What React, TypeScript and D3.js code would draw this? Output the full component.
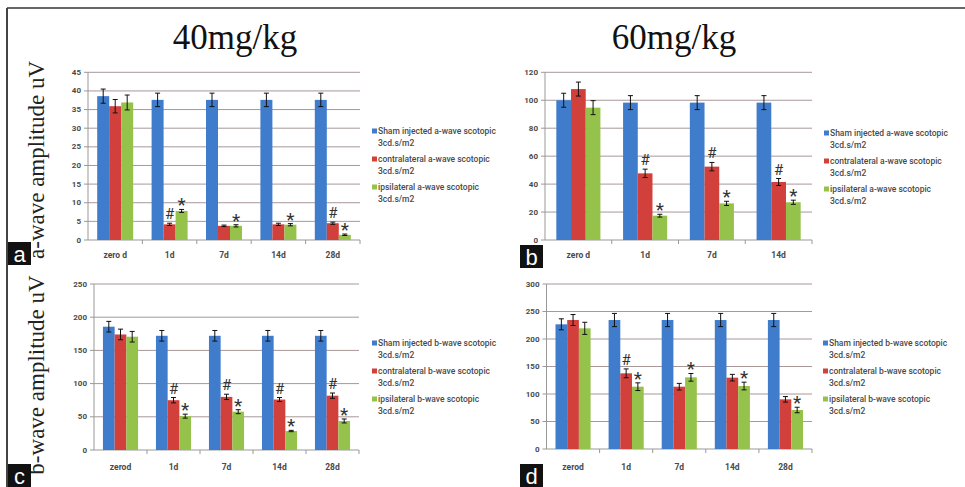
import React from 'react';
import * as d3 from 'd3';

// categories
const categoriesA = ['zero d', '1d', '7d', '14d', '28d'];
const categoriesB = ['zero d', '1d', '7d', '14d'];
const categoriesC = ['zerod', '1d', '7d', '14d', '28d'];
const categoriesD = ['zerod', '1d', '7d', '14d', '28d'];

// a: a-wave, 40mg/kg
const shamA = [38.6, 37.6, 37.6, 37.6, 37.6];
const shamAErr = [1.9, 1.8, 1.8, 1.8, 1.8];
const contraA = [35.9, 4.2, 3.8, 4.2, 4.5];
const contraAErr = [1.8, 0.3, 0.2, 0.3, 0.3];
const ipsiA = [36.9, 7.8, 3.8, 4.1, 1.4];
const ipsiAErr = [2, 0.4, 0.3, 0.3, 0.2];
const hashA = [false, true, false, false, true];
const starA = [false, true, true, true, true];

// b: a-wave, 60mg/kg
const shamB = [100, 98.3, 98.3, 98.3];
const shamBErr = [5, 5, 5, 5];
const contraB = [108, 47.7, 52.5, 41.5];
const contraBErr = [5, 3, 3, 2.5];
const ipsiB = [94.7, 17.4, 26.2, 27];
const ipsiBErr = [5, 1, 1.5, 1.5];
const hashB = [false, true, true, true];
const starB = [false, true, true, true];

// c: b-wave, 40mg/kg
const shamC = [185.7, 172, 172, 172, 172];
const shamCErr = [8, 8, 8, 8, 8];
const contraC = [174, 75, 80, 76, 81.8];
const contraCErr = [8, 4, 4, 3, 4];
const ipsiC = [170.6, 51, 57.7, 28.6, 43.7];
const ipsiCErr = [8, 3, 3, 1, 3];
const hashC = [false, true, true, true, true];
const starC = [false, true, true, true, true];

// d: b-wave, 60mg/kg
const shamD = [226.7, 234.5, 234.5, 234.5, 234.5];
const shamDErr = [10, 12, 12, 12, 12];
const contraD = [234.5, 137.6, 113.3, 129.7, 90.3];
const contraDErr = [10, 8, 6, 6, 5];
const ipsiD = [219.4, 113.3, 130.3, 114.5, 70.9];
const ipsiDErr = [11, 7, 7, 7, 5];
const hashD = [false, true, false, false, false];
const starD = [false, true, true, true, true];

const ticksA = [0, 5, 10, 15, 20, 25, 30, 35, 40, 45];
const ticksB = [0, 20, 40, 60, 80, 100, 120];
const ticksC = [0, 50, 100, 150, 200, 250];
const ticksD = [0, 50, 100, 150, 200, 250, 300];

const colors = ['#3f7dcc', '#d2403c', '#95c24b'];
const gridColor = '#a89898';
const labelColor = '#4a4a4a';
const sansFont = 'Roboto, "Open Sans", sans-serif';

type PanelProps = {
  letter: string;
  wave: string;
  categories: string[];
  series: number[][];
  errors: number[][];
  hash: boolean[];
  star: boolean[];
  ticks: number[];
  x0: number;
  x1: number;
  yBottom: number;
  yTop: number;
  barWidth: number;
  legendX: number;
  legendY: number;
  catLabelY: number;
  letterBox: [number, number];
};

function Panel(p: PanelProps) {
  const max = p.ticks[p.ticks.length - 1];
  const x = d3.scaleBand<string>().domain(p.categories).range([p.x0, p.x1]);
  const y = d3.scaleLinear().domain([0, max]).range([p.yBottom, p.yTop]);
  const bw = p.barWidth;
  const legendNames = ['Sham injected', 'contralateral', 'ipsilateral'];

  return (
    <g>
      {/* grid + y ticks */}
      {p.ticks.map((t) => (
        <g key={'t' + t}>
          {t > 0 && (
            <line x1={p.x0} x2={p.x1} y1={y(t)} y2={y(t)} stroke={gridColor} strokeWidth={1} />
          )}
          <line x1={p.x0 - 4} x2={p.x0} y1={y(t)} y2={y(t)} stroke="#999" strokeWidth={1} />
          <text
            x={p.x0 - 7}
            y={y(t)}
            textAnchor="end"
            dominantBaseline="central"
            fontFamily={sansFont}
            fontWeight={700}
            fontSize={8}
            fill={labelColor}
          >
            {t}
          </text>
        </g>
      ))}
      {/* axes */}
      <line x1={p.x0} x2={p.x0} y1={p.yTop} y2={p.yBottom} stroke="#999" strokeWidth={1} />
      <line x1={p.x0} x2={p.x1} y1={p.yBottom} y2={p.yBottom} stroke="#999" strokeWidth={1} />
      {p.categories.map((c, i) => (
        <line
          key={'xt' + c}
          x1={p.x0 + x.step() * (i + 1)}
          x2={p.x0 + x.step() * (i + 1)}
          y1={p.yBottom}
          y2={p.yBottom + 4}
          stroke="#999"
        />
      ))}
      {p.categories.map((c) => (
        <text
          key={'xl' + c}
          x={(x(c) as number) + x.bandwidth() / 2}
          y={p.catLabelY}
          textAnchor="middle"
          dominantBaseline="central"
          fontFamily={sansFont}
          fontWeight={700}
          fontSize={8.5}
          fill={labelColor}
        >
          {c}
        </text>
      ))}
      {/* bars */}
      {p.categories.map((c, i) => {
        const cx = (x(c) as number) + x.bandwidth() / 2;
        const left = cx - (bw * 3) / 2;
        return (
          <g key={'b' + c}>
            {p.series.map((s, k) => {
              const bx = left + k * bw;
              const top = y(s[i] + p.errors[k][i]);
              const bot = y(s[i] - p.errors[k][i]);
              const mid = bx + bw / 2;
              return (
                <g key={k}>
                  <rect x={bx} y={y(s[i])} width={bw} height={p.yBottom - y(s[i])} fill={colors[k]} />
                  <line x1={mid} x2={mid} y1={top} y2={bot} stroke="#111" strokeWidth={1} />
                  <line x1={mid - 2.5} x2={mid + 2.5} y1={top} y2={top} stroke="#111" strokeWidth={1} />
                  <line x1={mid - 2.5} x2={mid + 2.5} y1={bot} y2={bot} stroke="#111" strokeWidth={1} />
                </g>
              );
            })}
            {p.hash[i] && (
              <text
                x={left + bw * 1.5}
                y={y(p.series[1][i] + p.errors[1][i]) - 4}
                textAnchor="middle"
                fontFamily={sansFont}
                fontSize={15}
                fill="#333"
              >
                #
              </text>
            )}
            {p.star[i] && (
              <text
                x={left + bw * 2.5}
                y={y(p.series[2][i] + p.errors[2][i]) + 2}
                textAnchor="middle"
                fontFamily={sansFont}
                fontSize={19}
                fill="#333"
              >
                *
              </text>
            )}
          </g>
        );
      })}
      {/* legend */}
      {legendNames.map((n, k) => (
        <g key={'lg' + k}>
          <rect x={p.legendX} y={p.legendY + k * 28 - 2.5} width={5} height={5} fill={colors[k]} />
          <text
            x={p.legendX + 6}
            y={p.legendY + k * 28}
            dominantBaseline="central"
            fontFamily={sansFont}
            fontWeight={500}
            fontSize={8.5}
            fill={labelColor}
          >
            {`${n} ${p.wave}-wave scotopic`}
          </text>
          <text
            x={p.legendX + 6}
            y={p.legendY + k * 28 + 12}
            dominantBaseline="central"
            fontFamily={sansFont}
            fontWeight={500}
            fontSize={8.5}
            fill={labelColor}
          >
            3cd.s/m2
          </text>
        </g>
      ))}
      {/* panel letter */}
      <rect x={p.letterBox[0]} y={p.letterBox[1]} width={23} height={23} fill="#111" />
      <text
        x={p.letterBox[0] + 11.5}
        y={p.letterBox[1] + 12}
        textAnchor="middle"
        dominantBaseline="central"
        fontFamily='"Liberation Sans", Arial, sans-serif'
        fontSize={22}
        fill="#fff"
      >
        {p.letter}
      </text>
    </g>
  );
}

export default function App() {
  return (
    <svg
      width={965}
      height={487}
      style={{ position: 'absolute', left: 0, top: 0, background: '#fff' }}
    >
      <rect width={965} height={487} fill="#fff" />
      <line x1={7} x2={965} y1={8} y2={8} stroke="#666" strokeWidth={2} />
      <line x1={7} x2={7} y1={8} y2={487} stroke="#444" strokeWidth={2} />

      <text x={235} y={49} textAnchor="middle" fontFamily='"Liberation Serif", "Times New Roman", serif' fontSize={35} fill="#111">
        40mg/kg
      </text>
      <text x={674} y={49} textAnchor="middle" fontFamily='"Liberation Serif", "Times New Roman", serif' fontSize={35} fill="#111">
        60mg/kg
      </text>

      <text
        transform="translate(44,160) rotate(-90)"
        textAnchor="middle"
        fontFamily='"Liberation Serif", "Times New Roman", serif'
        fontSize={23}
        fill="#222"
      >
        a-wave amplitude uV
      </text>
      <text
        transform="translate(44,375) rotate(-90)"
        textAnchor="middle"
        fontFamily='"Liberation Serif", "Times New Roman", serif'
        fontSize={23}
        fill="#222"
      >
        b-wave amplitude uV
      </text>

      <Panel
        letter="a"
        wave="a"
        categories={categoriesA}
        series={[shamA, contraA, ipsiA]}
        errors={[shamAErr, contraAErr, ipsiAErr]}
        hash={hashA}
        star={starA}
        ticks={ticksA}
        x0={88}
        x1={360}
        yBottom={240}
        yTop={72.3}
        barWidth={12}
        legendX={372}
        legendY={131}
        catLabelY={255}
        letterBox={[8, 242]}
      />
      <Panel
        letter="b"
        wave="a"
        categories={categoriesB}
        series={[shamB, contraB, ipsiB]}
        errors={[shamBErr, contraBErr, ipsiBErr]}
        hash={hashB}
        star={starB}
        ticks={ticksB}
        x0={545}
        x1={812}
        yBottom={240}
        yTop={72.3}
        barWidth={14.7}
        legendX={824}
        legendY={133}
        catLabelY={255}
        letterBox={[520, 245]}
      />
      <Panel
        letter="c"
        wave="b"
        categories={categoriesC}
        series={[shamC, contraC, ipsiC]}
        errors={[shamCErr, contraCErr, ipsiCErr]}
        hash={hashC}
        star={starC}
        ticks={ticksC}
        x0={94}
        x1={359}
        yBottom={450}
        yTop={284}
        barWidth={11.7}
        legendX={372}
        legendY={343}
        catLabelY={467}
        letterBox={[8, 464]}
      />
      <Panel
        letter="d"
        wave="b"
        categories={categoriesD}
        series={[shamD, contraD, ipsiD]}
        errors={[shamDErr, contraDErr, ipsiDErr]}
        hash={hashD}
        star={starD}
        ticks={ticksD}
        x0={546.5}
        x1={812}
        yBottom={449}
        yTop={284}
        barWidth={11.7}
        legendX={823}
        legendY={343}
        catLabelY={467}
        letterBox={[520, 464]}
      />
    </svg>
  );
}
